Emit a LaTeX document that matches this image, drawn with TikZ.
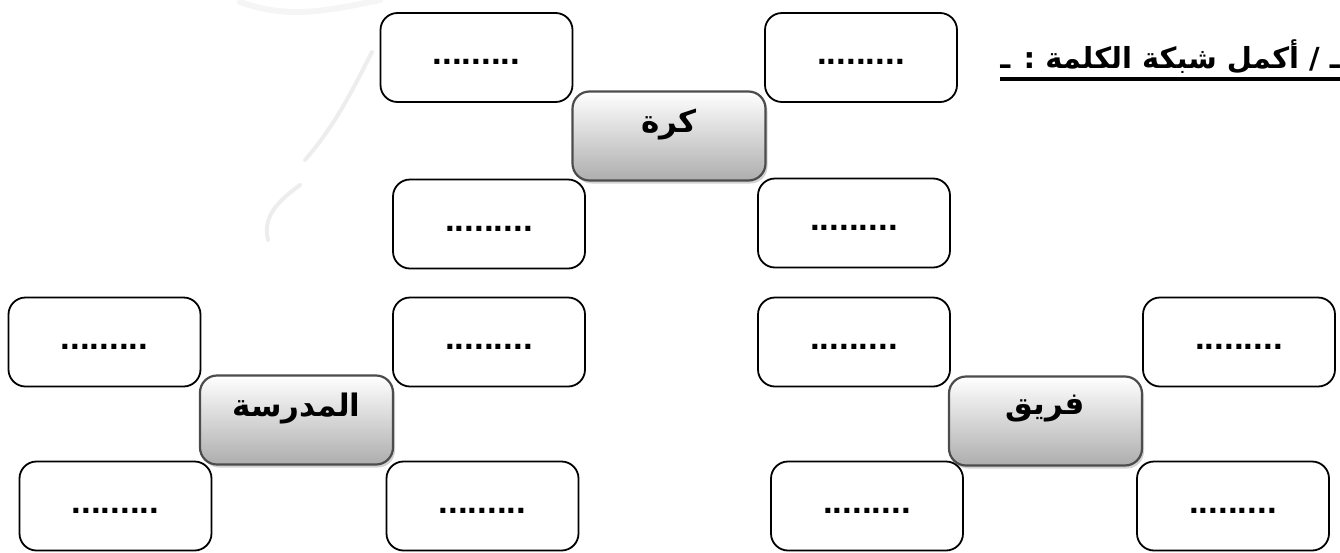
\documentclass[tikz,border=0pt]{standalone}
\usepackage{fontspec}
\setmainfont{Liberation Sans}
\newfontfamily\arabicfont[Script=Arabic]{DejaVu Sans}
\TeXXeTstate=1
\usetikzlibrary{shadows}
\begin{document}
\begin{tikzpicture}[x=1pt,y=-1pt,
  blank/.style={draw=black, line width=1.8pt, rounded corners=17pt,
    minimum width=192pt, minimum height=89pt, inner sep=0pt, fill=white,
    text height=14pt, text depth=0pt,
    font=\fontsize{35}{35}\selectfont\bfseries},
  hub/.style={draw=gray!60!black, line width=2.2pt, rounded corners=17pt,
    minimum width=193pt, minimum height=89pt, inner sep=0pt,
    top color=white, bottom color=gray!64,
    drop shadow={shadow xshift=2pt, shadow yshift=-3pt, opacity=0.35, fill=gray}},
  hublabel/.style={font=\arabicfont\bfseries\fontsize{31}{31}\selectfont, inner sep=0pt},
  titletext/.style={font=\arabicfont\bfseries\fontsize{29}{29}\selectfont, inner sep=0pt},
  mark line/.style={gray!14, line width=4pt, line cap=round}
]
\useasboundingbox (0,0) rectangle (1340,552);

% faint watermark strokes
\draw[mark line] (372,52) .. controls (350,95) and (335,125) .. (305,160);
\draw[mark line] (300,185) .. controls (280,200) and (262,215) .. (268,240);
\draw[gray!8, line width=6pt, line cap=round] (240,2) .. controls (290,20) and (330,10) .. (380,0);

% top cluster
\node[blank] (t1) at (476.5,57.5) {.........};
\node[blank] (t2) at (861,57.5) {.........};
\node[blank] (t3) at (489,224) {.........};
\node[blank] (t4) at (854,223) {.........};
\node[hub] (kura) at (669,136) {};
\node[hublabel] (kuraT) at ([yshift=11pt]kura.center) {\beginR كرة\endR};

% left cluster
\node[blank] (l1) at (104.5,342) {.........};
\node[blank] (l2) at (489,342) {.........};
\node[blank] (l3) at (115.5,506) {.........};
\node[blank] (l4) at (482.5,506) {.........};
\node[hub] (school) at (296.5,420) {};
\node[hublabel] (schoolT) at ([yshift=12pt]school.center) {\beginR المدرسة\endR};

% right cluster
\node[blank] (r1) at (854,342) {.........};
\node[blank] (r2) at (1239,342) {.........};
\node[blank] (r3) at (867,506) {.........};
\node[blank] (r4) at (1233,506) {.........};
\node[hub] (team) at (1045.5,421) {};
\node[hublabel] (teamT) at ([yshift=12pt]team.center) {\beginR فريق\endR};

% title
\node[titletext, anchor=base east] (title) at (1340,68) {\beginR ـ / أكمل شبكة الكلمة : ـ\endR};
\draw[line width=4pt] ([yshift=-11pt]title.base west) -- ([yshift=-11pt]title.base east);
\end{tikzpicture}
\end{document}
